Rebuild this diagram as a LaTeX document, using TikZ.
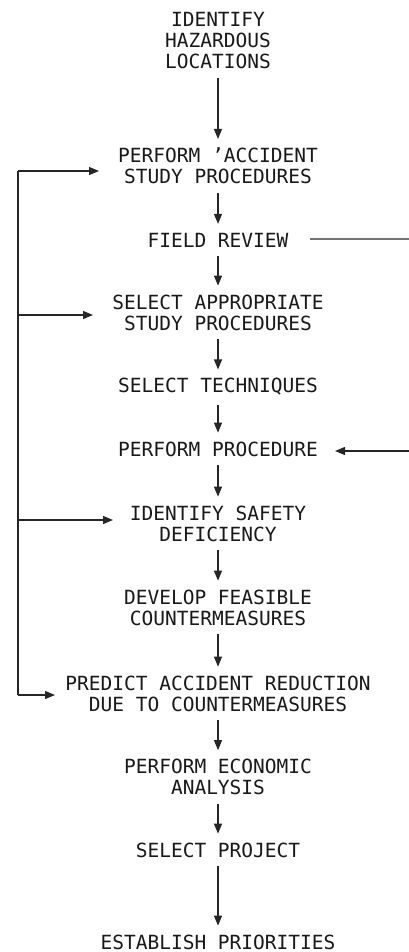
\documentclass[tikz,border=0pt]{standalone}
\usepackage{fontspec}
\setmainfont{DejaVu Sans Mono}
\usetikzlibrary{arrows.meta}
\begin{document}
\begin{tikzpicture}[x=1pt,y=-1pt,
  lbl/.style={inner sep=0pt, outer sep=9pt, align=center, font=\fontsize{19.5}{21}\selectfont, text=black!90},
  line/.style={line width=1.2pt, draw=black!85},
  arr/.style={line, -{Triangle[length=10pt,width=8pt]}},
  side/.style={line width=1.4pt, draw=black!55}]
\useasboundingbox[fill=white] (0,0) rectangle (409,952);
\node[lbl] (n1) at (218,41) {IDENTIFY\\HAZARDOUS\\LOCATIONS};
\node[lbl] (n2) at (218,166) {PERFORM 'ACCIDENT\\STUDY PROCEDURES};
\node[lbl] (n3) at (218,240) {FIELD REVIEW};
\node[lbl] (n4) at (218,312.5) {SELECT APPROPRIATE\\STUDY PROCEDURES};
\node[lbl] (n5) at (218,387) {SELECT TECHNIQUES};
\node[lbl] (n6) at (218,449) {PERFORM PROCEDURE};
\node[lbl] (n7) at (218,523.5) {IDENTIFY SAFETY\\DEFICIENCY};
\node[lbl] (n8) at (218,607.5) {DEVELOP FEASIBLE\\COUNTERMEASURES};
\node[lbl] (n9) at (218,693.5) {PREDICT ACCIDENT REDUCTION\\DUE TO COUNTERMEASURES};
\node[lbl] (n10) at (218,777) {PERFORM ECONOMIC\\ANALYSIS};
\node[lbl] (n11) at (218,850) {SELECT PROJECT};
\node[lbl] (n12) at (218,942) {ESTABLISH PRIORITIES};
% main chain
\draw[arr] (n1) -- (n2);
\draw[arr] (n2) -- (n3);
\draw[arr] (n3) -- (n4);
\draw[arr] (n4) -- (n5);
\draw[arr] (n5) -- (n6);
\draw[arr] (n6) -- (n7);
\draw[arr] (n7) -- (n8);
\draw[arr] (n8) -- (n9);
\draw[arr] (n9) -- (n10);
\draw[arr] (n10) -- (n11);
\draw[arr] (n11) -- (n12);
% left feedback loop
\coordinate (ltop) at (18,171);
\coordinate (b4) at (18,315);
\coordinate (b7) at (18,520);
\coordinate (lbot) at (18,695);
\coordinate (t2) at (99,171);
\coordinate (t4) at (93,315);
\coordinate (t7) at (113,520);
\coordinate (t9) at (55,695);
\draw[line] (ltop) -- (lbot);
\draw[arr] (ltop) -- (t2);
\draw[arr] (b4) -- (t4);
\draw[arr] (b7) -- (t7);
\draw[arr] (lbot) -- (t9);
% right side lines
\coordinate (fs) at (310,239);
\coordinate (fe) at (409,239);
\draw[side] (fs) -- (fe);
\coordinate (ps) at (409,451);
\coordinate (pe) at (335,451);
\draw[line, -{Triangle[length=10pt,width=8pt]}] (ps) -- (pe);
\end{tikzpicture}
\end{document}
